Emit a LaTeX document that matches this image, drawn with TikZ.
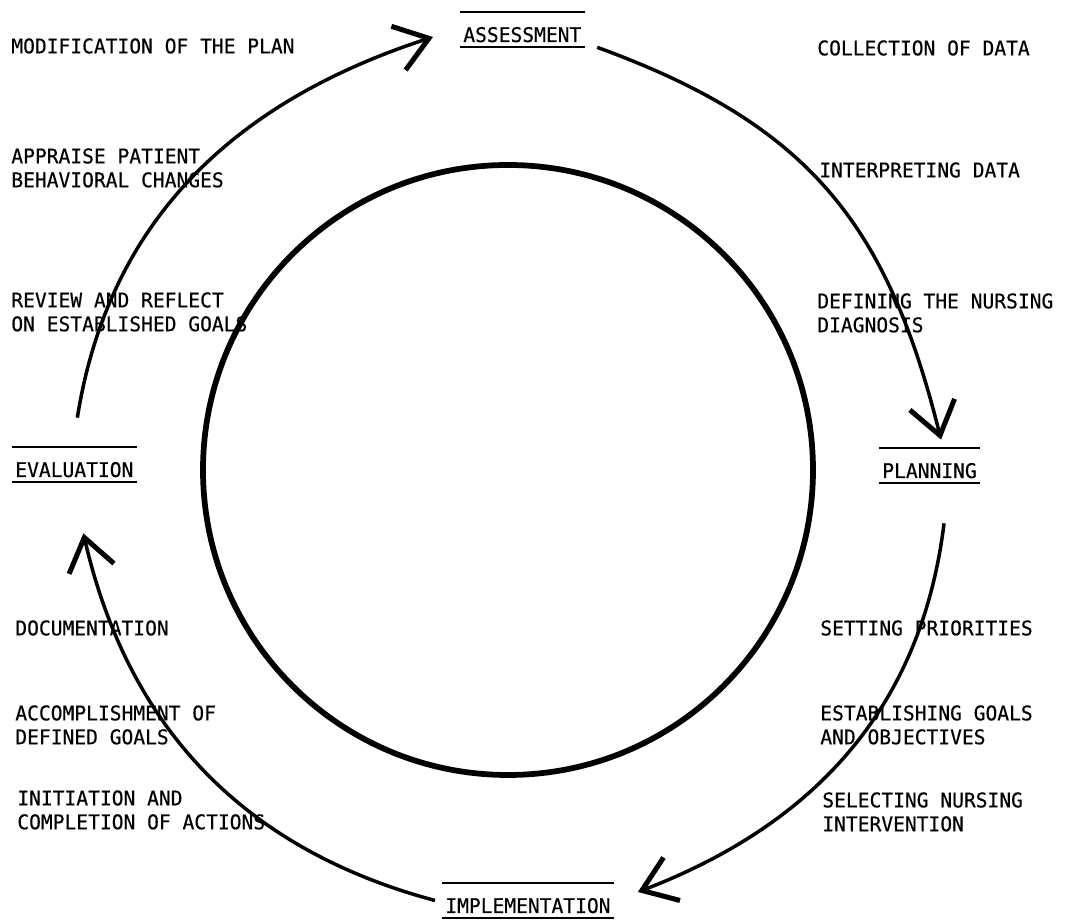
\documentclass[tikz,border=0pt]{standalone}
\usepackage{fontspec}
\newfontfamily\typerfont[FakeStretch=0.97,FakeBold=0.4]{DejaVu Sans Mono}
\usepackage{tikz}
\usetikzlibrary{arrows.meta,positioning}
\tikzset{phase/.style={font=\typerfont\fontsize{11.5}{13.6}\selectfont,
    inner xsep=0.06cm, inner ysep=0pt, text height=0.6cm, text depth=0.1cm,
    anchor=base west}}
\tikzset{step text/.style={font=\typerfont\fontsize{11.5}{13.6}\selectfont,
    align=left, inner sep=0pt, anchor=north west}}
\tikzset{rule/.style={line width=0.04cm}}
\tikzset{cycle arrow/.style={line width=0.07cm,
    -{Straight Barb[length=0.64cm,width=0.92cm,line width=0.1cm]}}}

\begin{document}
\begin{tikzpicture}[x=0.02cm,y=0.02cm]
        \useasboundingbox (0,0) rectangle (1066,922);
        % The inner circle
        \draw[line width=0.115cm] (508,452) circle [radius=305];
        % The four phases
        \node[phase] (assess) at (460,880) {ASSESSMENT};
        \node[phase] (plan) at (879,444) {PLANNING};
        \node[phase] (eval) at (12,445) {EVALUATION};
        \node[phase] (impl) at (442,9) {IMPLEMENTATION};
        \draw[rule] (assess.north west) -- (assess.north east)
            (assess.south west) -- (assess.south east);
        \draw[rule] (plan.north west) -- (plan.north east)
            (plan.south west) -- (plan.south east);
        \draw[rule] (eval.north west) -- (eval.north east)
            (eval.south west) -- (eval.south east);
        \draw[rule] (impl.north west) -- (impl.north east)
            (impl.south west) -- (impl.south east);
        % Ends of the arrows
        \coordinate[above right=0.58cm and 0.06cm of eval.north] (evalOut);
        \coordinate[below left=0.15cm and 0.54cm of assess.west] (assessIn);
        \coordinate[right=0.25cm of assess.south east] (assessOut);
        \coordinate[above right=0.16cm and 0.23cm of plan.north] (planIn);
        \coordinate[below right=0.8cm and 0.29cm of plan.south] (planOut);
        \coordinate[above right=0.17cm and 0.48cm of impl.east] (implIn);
        \coordinate[left=0.14cm of impl.west] (implOut);
        \coordinate[below right=1.02cm and 0.18cm of eval.south] (evalIn);
        % The cycle
        \draw[cycle arrow] (evalOut) to[out=81,in=198] (assessIn);
        \draw[cycle arrow] (assessOut) to[out=-20,in=104,looseness=1.1] (planIn);
        \draw[cycle arrow] (planOut) to[out=-97,in=21] (implIn);
        \draw[cycle arrow] (implOut) to[out=165,in=-77] (evalIn);
        % Steps on the left
        \node[step text] (modify) at (11,884) {MODIFICATION OF THE PLAN};
        \node[step text] (appraise) at (11,774) {APPRAISE PATIENT\\BEHAVIORAL CHANGES};
        \node[step text] (review) at (11,630) {REVIEW AND REFLECT\\ON ESTABLISHED GOALS};
        \node[step text] (docu) at (15,302) {DOCUMENTATION};
        \node[step text] (accomp) at (15,217) {ACCOMPLISHMENT OF\\DEFINED GOALS};
        \node[step text] (initiate) at (17,132) {INITIATION AND\\COMPLETION OF ACTIONS};
        % Steps on the right
        \node[step text] (collect) at (817,882) {COLLECTION OF DATA};
        \node[step text] (interpret) at (819,760) {INTERPRETING DATA};
        \node[step text] (define) at (817,629) {DEFINING THE NURSING\\DIAGNOSIS};
        \node[step text] (priority) at (820,302) {SETTING PRIORITIES};
        \node[step text] (goals) at (820,217) {ESTABLISHING GOALS\\AND OBJECTIVES};
        \node[step text] (select) at (822,130) {SELECTING NURSING\\INTERVENTION};
\end{tikzpicture}
\end{document}
